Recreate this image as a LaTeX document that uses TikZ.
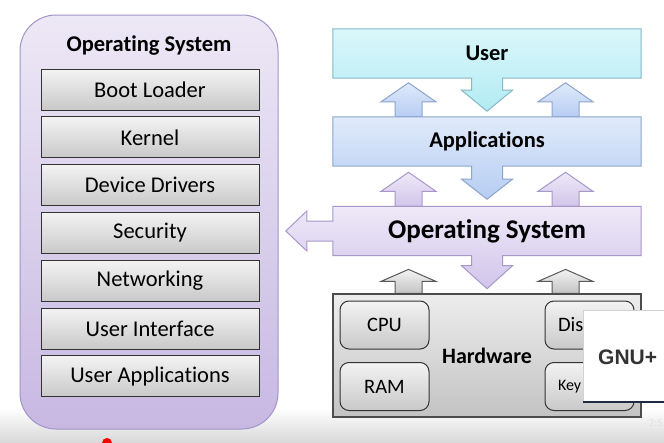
\documentclass[tikz,border=0pt]{standalone}
\usepackage{fontspec}
\setmainfont[Ligatures=NoCommon]{Carlito}
\newfontfamily\gnufont{Liberation Sans}
\usetikzlibrary{calc}
\pgfdeclarelayer{bg}
\pgfdeclarelayer{back}
\pgfsetlayers{bg,back,main}
\definecolor{panelTop}{HTML}{EDE8F6}
\definecolor{panelBot}{HTML}{C7B8E2}
\definecolor{panelLine}{HTML}{A294C6}
\definecolor{itemTop}{HTML}{F3F3F3}
\definecolor{itemBot}{HTML}{C9C9C9}
\definecolor{userTop}{HTML}{DAF7FB}
\definecolor{userBot}{HTML}{B2EBF3}
\definecolor{userLine}{HTML}{86B8C6}
\definecolor{appTop}{HTML}{E0EAFB}
\definecolor{appBot}{HTML}{B6CDF2}
\definecolor{appLine}{HTML}{8DA5CC}
\definecolor{osTop}{HTML}{EFE9F8}
\definecolor{osBot}{HTML}{D1C5EA}
\definecolor{osLine}{HTML}{A898CA}
\definecolor{hwTop}{HTML}{EDEDED}
\definecolor{hwBot}{HTML}{C3C3C3}
\definecolor{gnuLine}{HTML}{1F2A44}
\begin{document}
\begin{tikzpicture}[x=1pt,y=-1pt,
    item/.style={draw=black!80,line width=1pt,top color=itemTop,bottom color=itemBot,
      minimum width=218pt,minimum height=41pt,inner sep=0pt,font=\fontsize{22.5}{24}\selectfont},
    layer/.style={minimum width=308pt,minimum height=49pt,inner sep=0pt,
      font=\bfseries\fontsize{22.5}{24}\selectfont},
    part/.style={draw=black!80,line width=1pt,rounded corners=9pt,top color=itemTop,
      bottom color=itemBot,minimum width=89pt,minimum height=48pt,inner sep=0pt,
      font=\fontsize{20.5}{22}\selectfont},
    userfill/.style={draw=userLine,line width=1pt,top color=userTop,bottom color=userBot},
    appfill/.style={draw=appLine,line width=1pt,top color=appTop,bottom color=appBot},
    osfill/.style={draw=osLine,line width=1pt,top color=osTop,bottom color=osBot},
    hwfill/.style={draw=black!70,line width=1.2pt,top color=hwTop,bottom color=hwBot},
    hwarrow/.style={draw=black!65,line width=1pt,top color=itemTop,bottom color=hwBot}]
  \useasboundingbox (0,0) rectangle (664,442);
  \begin{pgfonlayer}{bg}
    \fill[white] (0,0) rectangle (664,442);
    \shade[top color=white,bottom color=gray!30] (0,408) rectangle (664,442);
    \begin{scope}
      \clip (0,0) rectangle (664,442);
      \fill[red] (107,443) circle (5);
    \end{scope}
  \end{pgfonlayer}
  % left panel
  \node[draw=panelLine,line width=1pt,rounded corners=36pt,top color=panelTop,
    bottom color=panelBot,minimum width=258pt,minimum height=414pt] (panel) at (149,222) {};
  \node[font=\bfseries\fontsize{22.5}{24}\selectfont] (title) at (149,46) {Operating System};
  \foreach \t [count=\i] in {Boot Loader,Kernel,Device Drivers,Security,Networking,
      User Interface,User Applications}
    \node[item] (item\i) at (150,{89.5+47.8*(\i-1)}) {\t};
  % layers
  \node[layer] (user) at (487,53.5) {User};
  \node[layer] (apps) at (487,141.5) {Applications};
  \node[layer,font=\bfseries\fontsize{27}{28}\selectfont] (os) at (487,231) {Operating System};
  \node[layer,hwfill,minimum height=123pt,font=\bfseries\fontsize{22}{24}\selectfont]
    (hw) at (487,355.5) {Hardware};
  \node[part] (cpu) at (384.5,325) {CPU};
  \node[part] (ram) at (384.5,386.5) {RAM};
  \node[part,text width=63pt,align=left] (disp) at (589.5,325) {Dis};
  \node[part,text width=63pt,align=left,font=\fontsize{16}{18}\selectfont] (keyb) at (589.5,386.5) {Key};
  % overlay
  \begin{scope}
    \clip (0,0) rectangle (664,442);
    \node[draw=gray!35,fill=white,minimum width=90pt,minimum height=92pt,inner sep=0pt] (gnu) at (628,356) {};
    \draw[gnuLine,line width=1.5pt] (gnu.south west) -- (gnu.south east);
  \end{scope}
  \node[anchor=west,inner sep=0pt,text=black!80,font=\gnufont\bfseries\fontsize{21}{24}\selectfont]
    (gnutxt) at (598,357) {GNU+};
  \node[anchor=east,inner sep=0pt,text=gray!25,font=\fontsize{11}{12}\selectfont] (clock) at (663,423) {2:5};
  \begin{pgfonlayer}{back}
    \foreach \dx in {-78.5,78.5} {
      \path[appfill] ($(apps.north)+({\dx-13.5},0)$) -- ++(0,-15) -- ++(-14,0) -- ++(27.5,-19)
        -- ++(27.5,19) -- ++(-14,0) -- ++(0,15) -- cycle;
      \path[osfill] ($(os.north)+({\dx-13.5},0)$) -- ++(0,-15) -- ++(-14,0) -- ++(27.5,-19)
        -- ++(27.5,19) -- ++(-14,0) -- ++(0,15) -- cycle;
      \path[hwarrow] ($(hw.north)+({\dx-13.5},0)$) -- ++(0,-12) -- ++(-14,0) -- ++(27.5,-12)
        -- ++(27.5,12) -- ++(-14,0) -- ++(0,12) -- cycle;
    }
    \path[userfill] (user.north west) -- (user.north east) -- (user.south east)
      -- ($(user.south)+(15.5,0)$) -- ++(0,12) -- ++(10,0) -- ++(-25.5,21) -- ++(-25.5,-21)
      -- ++(10,0) -- ++(0,-12) -- (user.south west) -- cycle;
    \path[appfill] (apps.north west) -- (apps.north east) -- (apps.south east)
      -- ($(apps.south)+(15.5,0)$) -- ++(0,13) -- ++(10,0) -- ++(-25.5,20) -- ++(-25.5,-20)
      -- ++(10,0) -- ++(0,-13) -- (apps.south west) -- cycle;
    \path[osfill] (os.north west) -- (os.north east) -- (os.south east)
      -- ($(os.south)+(15.5,0)$) -- ++(0,10) -- ++(10,0) -- ++(-25.5,23) -- ++(-25.5,-23)
      -- ++(10,0) -- ++(0,-10) -- (os.south west)
      -- ($(os.west)+(0,10)$) -- ++(-26,0) -- ++(0,10) -- ++(-21,-20) -- ++(21,-20)
      -- ++(0,10) -- ++(26,0) -- cycle;
  \end{pgfonlayer}
\end{tikzpicture}
\end{document}
